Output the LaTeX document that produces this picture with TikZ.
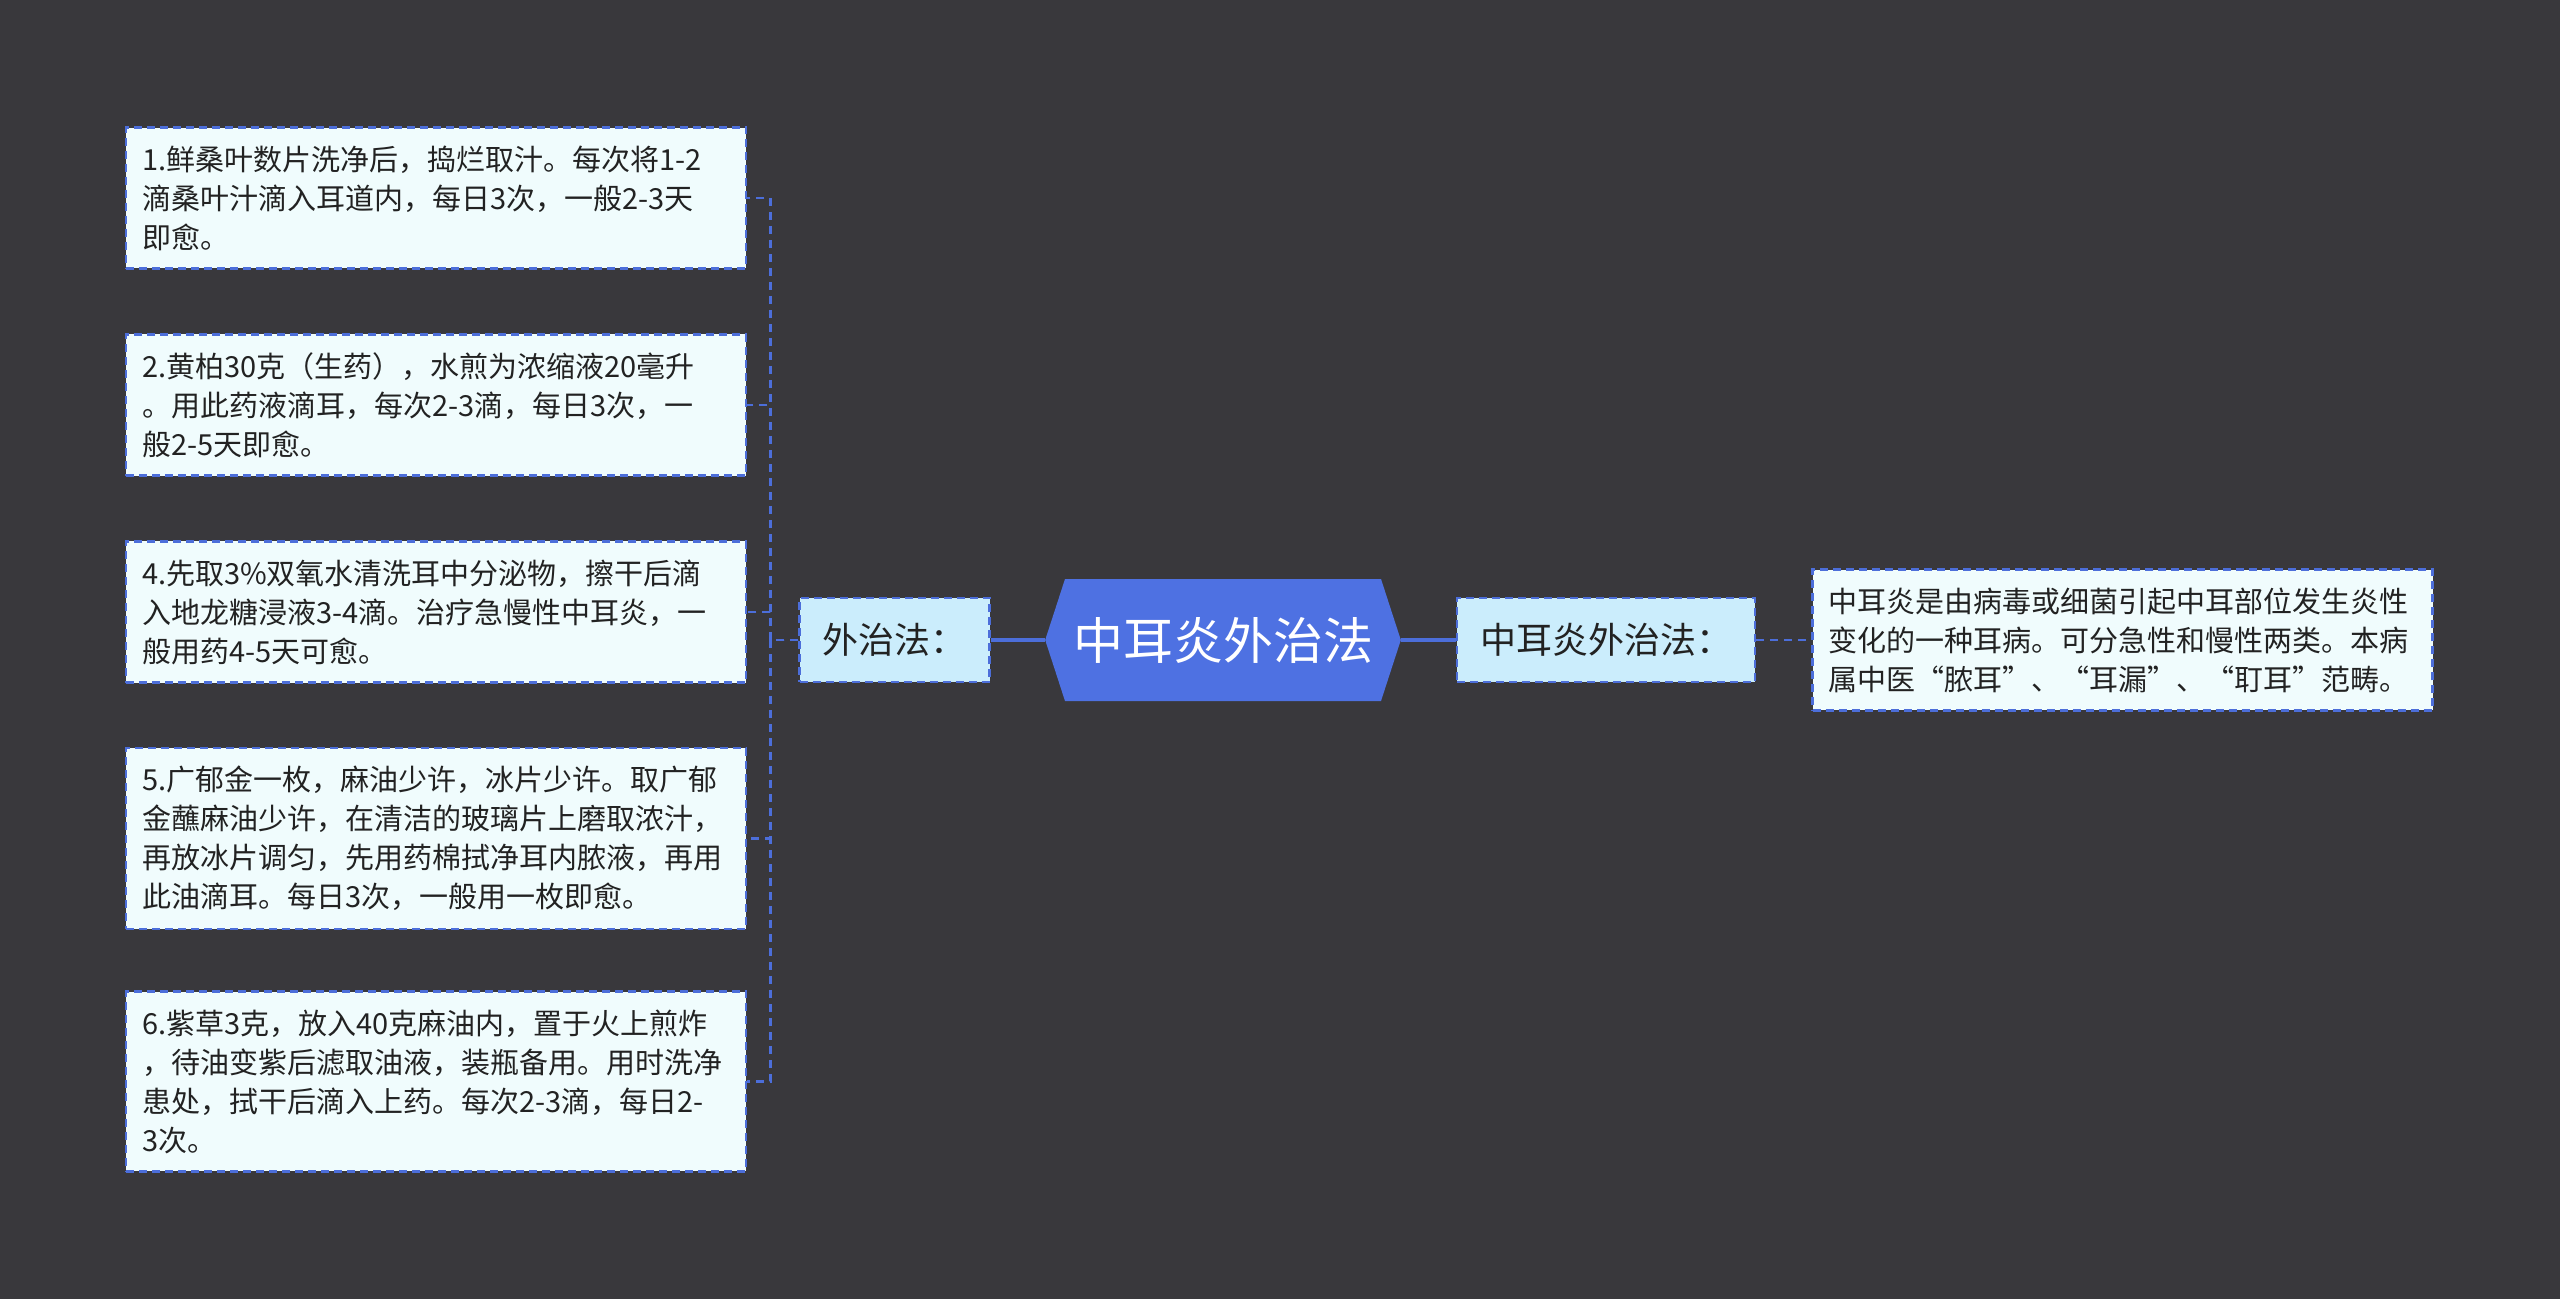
\documentclass[tikz,border=0pt]{standalone}
\usepackage{fontspec}
\newfontfamily\cjk{Noto Sans CJK SC}
\usetikzlibrary{shapes.symbols}
\definecolor{bgc}{RGB}{57,56,60}
\definecolor{linec}{RGB}{76,110,218}
\definecolor{hubc}{RGB}{78,113,226}
\definecolor{leaff}{RGB}{240,252,253}
\definecolor{midf}{RGB}{203,237,252}
\definecolor{inkc}{RGB}{34,34,34}
\tikzset{
  leaf/.style={draw=linec, line width=1.2pt, dash pattern=on 4pt off 2.5pt, fill=leaff, text=inkc,
    font=\cjk\fontsize{14.5}{19.5}\selectfont, text width=294pt, align=left, inner xsep=8pt, inner ysep=9pt},
  midbox/.style={draw=linec, line width=1.2pt, dash pattern=on 4pt off 2.5pt, fill=midf, text=inkc,
    font=\cjk\fontsize{18}{22}\selectfont, minimum height=42pt, inner xsep=11.5pt},
  hub/.style={shape=signal, signal to=west and east, signal pointer angle=144, fill=hubc, text=white,
    font=\cjk\fontsize{25}{30}\selectfont, minimum height=61pt, inner xsep=4pt},
  link/.style={draw=linec, line width=1.8pt},
  linkdash/.style={draw=linec, line width=1.2pt, dash pattern=on 4pt off 3pt}
}
\begin{document}
\begin{tikzpicture}[x=0.5pt,y=-0.5pt]
  \fill[bgc] (0,0) rectangle (2560,1299);
  \useasboundingbox (0,0) rectangle (2560,1299);
  \node[hub] (hub) at (1223,640) {中耳炎外治法};
  \node[midbox] (wz) at (894.5,640) {外治法：};
  \node[midbox] (rz) at (1606,640) {中耳炎外治法：};
  \node[leaf] (l1) at (436,198) {1.鲜桑叶数片洗净后，捣烂取汁。每次将1-2\\滴桑叶汁滴入耳道内，每日3次，一般2-3天\\即愈。};
  \node[leaf] (l2) at (436,405) {2.黄柏30克（生药），水煎为浓缩液20毫升\\。用此药液滴耳，每次2-3滴，每日3次，一\\般2-5天即愈。};
  \node[leaf] (l4) at (436,612) {4.先取3\%双氧水清洗耳中分泌物，擦干后滴\\入地龙糖浸液3-4滴。治疗急慢性中耳炎，一\\般用药4-5天可愈。};
  \node[leaf] (l5) at (436,838.5) {5.广郁金一枚，麻油少许，冰片少许。取广郁\\金蘸麻油少许，在清洁的玻璃片上磨取浓汁，\\再放冰片调匀，先用药棉拭净耳内脓液，再用\\此油滴耳。每日3次，一般用一枚即愈。};
  \node[leaf] (l6) at (436,1081.5) {6.紫草3克，放入40克麻油内，置于火上煎炸\\，待油变紫后滤取油液，装瓶备用。用时洗净\\患处，拭干后滴入上药。每次2-3滴，每日2-\\3次。};
  \node[leaf] (rl) at (2122.5,640) {中耳炎是由病毒或细菌引起中耳部位发生炎性\\变化的一种耳病。可分急性和慢性两类。本病\\属中医“脓耳”、“耳漏”、“耵耳”范畴。};
  \draw[link] (hub.west) -- (wz.east);
  \draw[link] (hub.east) -- (rz.west);
  \draw[linkdash] (rz.east) -- (rl.west);
  \foreach \i in {1,2,4,5,6}
    \draw[linkdash] (wz.west) -- ++(-28,0) |- (l\i.east);
\end{tikzpicture}
\end{document}
